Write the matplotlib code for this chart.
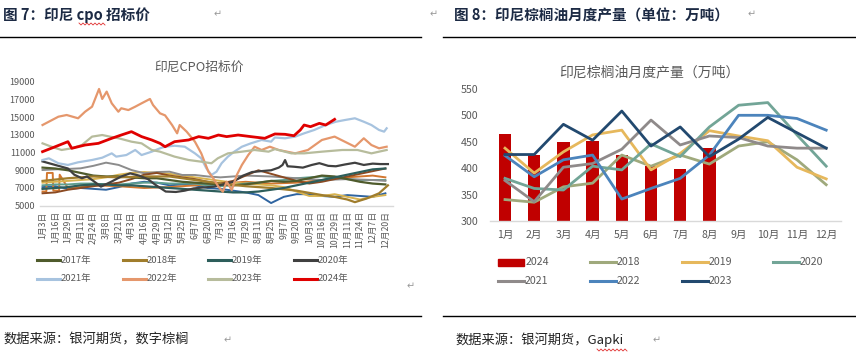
import matplotlib
matplotlib.use('Agg')
import matplotlib.pyplot as plt
from matplotlib.lines import Line2D
from matplotlib.patches import Rectangle

plt.rcParams['font.family'] = ['Noto Sans CJK SC', 'DejaVu Sans']

W, H = 856, 361

# ---------------- left chart: CPO tender price (x = tick index) ----------------
date_labels = ['1月3日', '1月16日', '1月29日', '2月11日', '2月24日', '3月8日', '3月21日',
               '4月3日', '4月16日', '4月29日', '5月12日', '5月25日', '6月7日', '6月20日',
               '7月3日', '7月16日', '7月29日', '8月11日', '8月25日', '9月7日', '9月20日',
               '10月3日', '10月16日', '10月29日', '11月11日', '11月24日', '12月7日', '12月20日']

x_full = list(range(28))

y2017 = [9300, 9200, 9000, 8700, 8400, 8300, 8300, 8200, 8100, 8100, 7900, 7700, 7600, 7500,
         7400, 7300, 7400, 7600, 7800, 7700, 7800, 8100, 8400, 8300, 8000, 7700, 7500, 7400]
x2018 = [0, 2, 4, 6, 8, 10, 12, 14, 16, 18, 20, 22, 23, 24, 24.6, 25.5, 26.5, 27.2]
y2018 = [7800, 8100, 8300, 8200, 8300, 8300, 7900, 7500, 7200, 7000, 6700, 6200, 6000, 5700,
         5400, 5800, 6400, 7300]
y2019 = [6900, 7000, 7100, 7300, 7400, 7400, 7300, 7300, 7200, 7100, 7000, 6900, 6800, 6700,
         6600, 6500, 6500, 6600, 6800, 7000, 7300, 7600, 7900, 8200, 8500, 8800, 9100, 9200]
x2020 = [0, 0.5, 1.0, 2.0, 2.5, 3.1, 3.5, 4.0, 4.6, 5.4, 6.2, 6.9, 7.6, 8.3, 8.9, 9.7, 10.5,
         11.2, 11.9, 12.6, 13.5, 14.2, 15.0, 15.8, 16.5, 17.2, 18.0, 18.6, 18.9, 19.1, 19.3,
         19.8, 20.5, 21.2, 21.8, 22.5, 23.1, 23.8, 24.6, 25.3, 26.0, 26.6, 27.2]
y2020 = [10000, 9800, 9600, 9200, 8500, 8100, 8300, 7800, 7150, 7700, 8300, 8650, 8400, 8000,
         7350, 6600, 6550, 6700, 6950, 7050, 7150, 7400, 7700, 8400, 8800, 8900, 9000, 9300,
         9600, 10150, 9450, 9400, 9300, 9600, 9800, 9500, 9450, 9650, 9850, 9600, 9750, 9700,
         9700]
x2021 = [0, 0.5, 1.25, 2.0, 2.8, 3.9, 4.7, 5.45, 5.8, 6.6, 7.3, 7.8, 8.6, 9.25, 9.65, 10.4,
         11.2, 12.0, 12.5, 12.9, 13.3, 13.7, 14.1, 14.6, 15.1, 15.7, 16.4, 17.25, 18.0, 18.3,
         19.1, 19.9, 20.6, 21.4, 22.3, 23.1, 23.8, 24.6, 25.3, 25.9, 26.5, 26.9, 27.1]
y2021 = [10160, 10350, 9790, 9600, 9900, 10160, 10420, 10910, 10540, 10720, 11290, 10720,
         11100, 11480, 11660, 11770, 11660, 10910, 10350, 9220, 8470, 8840, 9790, 10540, 11100,
         11660, 12040, 12420, 12230, 12700, 12610, 12800, 13170, 13550, 14110, 14480, 14670,
         14870, 14480, 14110, 13550, 13360, 13740]
x2022 = [0, 1.25, 1.9, 2.8, 3.35, 3.9, 4.45, 4.7, 5.05, 5.45, 5.97, 6.2, 6.76, 7.3, 7.8, 8.46,
         8.7, 9.25, 9.65, 10.2, 10.6, 10.8, 11.35, 12.0, 12.5, 13.06, 13.45, 13.85, 14.2, 14.5,
         14.9, 15.3, 15.7, 16.2, 16.7, 17.25, 17.9, 18.6, 19.9, 20.9, 22.0, 23.0, 23.8, 24.6,
         25.3, 25.9, 26.5, 27.1]
y2022 = [14110, 15050, 15240, 14870, 15610, 16180, 18180, 17050, 17880, 16560, 15610, 16000,
         15800, 16180, 16560, 17050, 16370, 15430, 15200, 14110, 13170, 14110, 13360, 12230,
         10910, 8840, 8090, 7150, 6580, 7710, 6770, 8470, 9600, 10720, 11660, 11290, 11660,
         11290, 10910, 11290, 12420, 12800, 12230, 11660, 12610, 11850, 11480, 11660]
x2023 = [0, 0.7, 1.5, 2.3, 3.1, 3.9, 4.7, 5.3, 6.0, 7.0, 7.8, 8.6, 9.25, 10.4, 11.5, 12.5,
         13.3, 13.8, 14.6, 15.7, 16.7, 17.8, 18.3, 19.6, 20.6, 22.0, 23.6, 24.8, 25.9, 27.1]
y2023 = [12040, 11660, 11290, 11480, 11850, 12800, 12980, 12800, 12610, 12230, 12040, 11290,
         11100, 10540, 10160, 9970, 9790, 10350, 10910, 11100, 11290, 11100, 11390, 10910,
         10910, 11100, 11290, 11290, 10910, 11290]
x2024 = [0, 1.0, 2.0, 2.3, 3.35, 4.4, 5.45, 6.2, 7.0, 7.8, 8.6, 9.25, 9.65, 10.4, 11.5, 12.3,
         13.06, 13.85, 14.5, 15.4, 16.4, 17.5, 18.3, 19.1, 19.8, 20.3, 20.6, 21.1, 21.8, 22.3,
         23.0]
y2024 = [11100, 11660, 12230, 11480, 11850, 12040, 12610, 12980, 13360, 12800, 12420, 12040,
         11660, 12230, 12420, 12800, 12610, 12980, 12800, 12980, 12800, 12610, 13100, 13060,
         12900, 13550, 14110, 13920, 14300, 14110, 14750]

# older years drawn without legend entries
old_blue = [7100, 7200, 6900, 7000, 6900, 6800, 7100, 7500, 7700, 7600, 7300, 7400, 7300, 7000,
            6900, 6700, 6500, 6200, 5300, 6000, 6300, 6300, 6100, 6000, 6200, 6100, 6000, 6400]
old_gray = [9030, 9100, 9150, 9220, 9500, 9860, 9600, 9030, 8660, 8800, 8840, 8470, 8470, 8300,
            8200, 8300, 8400, 8350, 8300, 8200, 8100, 8000, 7900, 7950, 8000, 7950, 7900, 7800]
old_brown = [6400, 6500, 6800, 7000, 7200, 7400, 7600, 8000, 8500, 8700, 8400, 8200, 8000, 7700,
             7500, 7800, 8400, 9000, 8600, 8200, 7800, 7500, 7700, 8000, 8300, 8600, 8900, 9200]
old_gold = [7600, 7700, 7800, 7900, 8000, 8200, 8500, 8700, 8800, 8700, 8600, 8400, 8200, 8000,
            7800, 7600, 7500, 7400, 7300, 7100, 6600, 6100, 6100, 6300, 6000, 5700, 6000, 6200]
old_teal = [7300, 7400, 7400, 7500, 7500, 7400, 7400, 7500, 7600, 7600, 7500, 7500, 7500, 7300,
            7200, 7300, 7500, 7600, 7800, 7900, 8100, 8200, 8300, 8100, 8000, 7900, 7900, 7900]
x_old_orange = [0, 0.3, 0.35, 0.8, 0.85, 1.3, 1.35, 2, 3, 4, 6, 8, 10, 12, 14, 16, 18, 20, 22,
                24, 26, 27]
y_old_orange = [6600, 6600, 8700, 8700, 6700, 6700, 8500, 7000, 7100, 7300, 7200, 7000, 7100,
                7300, 7500, 7700, 7500, 7600, 7900, 8200, 8400, 8200]

# ---------------- right chart: Indonesia monthly output ----------------
months = ['1月', '2月', '3月', '4月', '5月', '6月', '7月', '8月', '9月', '10月', '11月', '12月']
prod_2024 = [465, 426, 450, 451, 426, 404, 398, 439]
prod_2018 = [341, 336, 365, 372, 425, 404, 425, 408, 442, 450, 416, 369]
prod_2019 = [438, 391, 431, 463, 472, 397, 428, 471, 461, 452, 402, 380]
prod_2020 = [381, 362, 359, 404, 397, 446, 422, 478, 519, 524, 463, 404]
prod_2021 = [377, 337, 402, 409, 436, 491, 444, 461, 458, 442, 438, 438]
prod_2022 = [424, 384, 416, 425, 342, 362, 381, 425, 500, 500, 494, 472]
prod_2023 = [426, 426, 483, 453, 508, 442, 478, 422, 455, 496, 467, 438]

GRAY = '#595959'


def fx(x):
    return x / W


def fy(y):
    return 1 - y / H


fig = plt.figure(figsize=(W / 100, H / 100), dpi=100)
fig.patch.set_facecolor('white')

# ----- document decoration -----
fig.text(fx(3), fy(15), '图 7：印尼 cpo 招标价', fontsize=10.5, fontweight='bold',
         color='#1C2A44', va='center', ha='left')
fig.text(fx(214), fy(14), '↵', fontsize=7, color='#999999', va='center', family='DejaVu Sans')
fig.text(fx(430), fy(14), '↵', fontsize=7, color='#999999', va='center', family='DejaVu Sans')
fig.text(fx(454), fy(15), '图 8：印尼棕榈油月度产量（单位：万吨）', fontsize=10.5,
         fontweight='bold', color='#1C2A44', va='center', ha='left')
fig.text(fx(748), fy(14), '↵', fontsize=7, color='#999999', va='center', family='DejaVu Sans')
fig.text(fx(407), fy(286), '↵', fontsize=7, color='#999999', va='center', family='DejaVu Sans')

for x0, x1 in [(0, 421), (443, 856)]:
    fig.add_artist(Line2D([fx(x0), fx(x1)], [fy(37), fy(37)], color='black', lw=1.0))
    fig.add_artist(Line2D([fx(x0), fx(x1)], [fy(316), fy(316)], color='black', lw=1.0))

fig.text(fx(3), fy(340), '数据来源：银河期货，数字棕榈', fontsize=9.5, color='#222222',
         va='center', ha='left')
fig.text(fx(224), fy(340), '↵', fontsize=7, color='#999999', va='center', family='DejaVu Sans')
fig.text(fx(455), fy(340), '数据来源：银河期货，Gapki', fontsize=9.5, color='#222222',
         va='center', ha='left')
fig.text(fx(653), fy(340), '↵', fontsize=7, color='#999999', va='center', family='DejaVu Sans')


def squiggle(x0, x1, y):
    xs, ys = [], []
    n = int((x1 - x0) / 2)
    for i in range(n + 1):
        xs.append(fx(x0 + 2 * i))
        ys.append(fy(y + (1 if i % 2 else -1)))
    fig.add_artist(Line2D(xs, ys, color='#E03030', lw=0.6))


squiggle(79, 105, 24)
squiggle(597, 628, 350)

# ----- left chart -----
ax1 = fig.add_axes([fx(40), fy(205.7), (393 - 40) / W, 124 / H])
ax1.plot(x_full, old_blue, color='#2F64A0', lw=1.4)
ax1.plot(x_old_orange, y_old_orange, color='#D2772F', lw=1.4)
ax1.plot(x_full, old_gold, color='#D8B350', lw=1.4)
ax1.plot(x_full, old_teal, color='#5F9E8F', lw=1.4)
ax1.plot(x_full, old_gray, color='#8C8C8C', lw=1.4)
ax1.plot(x_full, old_brown, color='#8B4A22', lw=1.4)

series_left = [
    ('2017年', x_full, y2017, '#4F5B2C'),
    ('2018年', x2018, y2018, '#A07D2C'),
    ('2019年', x_full, y2019, '#2D5E5B'),
    ('2020年', x2020, y2020, '#404040'),
    ('2021年', x2021, y2021, '#A7C3DF'),
    ('2022年', x2022, y2022, '#E5976C'),
    ('2023年', x2023, y2023, '#B7BC9C'),
    ('2024年', x2024, y2024, '#E00000'),
]
for name, xs, ys, c in series_left:
    ax1.plot(xs, ys, color=c, lw=2.0 if name == '2024年' else 1.6)

ax1.set_xlim(-0.2, 27.6)
ax1.set_ylim(5000, 19000)
ax1.set_yticks(range(5000, 19001, 2000))
ax1.set_xticks(x_full)
ax1.set_xticklabels(date_labels, rotation=90, fontsize=6.3, color=GRAY)
ax1.tick_params(axis='y', length=0, labelsize=6.6, labelcolor=GRAY, pad=3.5)
ax1.tick_params(axis='x', length=0, pad=4)
for s in ['top', 'right', 'left']:
    ax1.spines[s].set_visible(False)
ax1.spines['bottom'].set_color('#D9D9D9')
ax1.spines['bottom'].set_linewidth(1.0)
fig.text(fx(199), fy(67), '印尼CPO招标价', fontsize=9.2, color=GRAY, ha='center', va='center')

# legend (left)
col_x = [37, 123, 208, 294]
row_y = [260, 279]
for i, (name, xs, ys, c) in enumerate(series_left):
    hx = col_x[i % 4]
    hy = row_y[i // 4]
    fig.add_artist(Line2D([fx(hx), fx(hx + 23)], [fy(hy), fy(hy)], color=c, lw=2.2))
    fig.text(fx(hx + 24), fy(hy), name, fontsize=6.8, color=GRAY, va='center', ha='left')

# ----- right chart -----
ax2 = fig.add_axes([fx(490.4), fy(221.3), 350.4 / W, 132.5 / H])
xm = list(range(12))
ax2.bar(range(len(prod_2024)), prod_2024, width=0.42, color='#C00000', zorder=1)
series_right = [
    ('2018', prod_2018, '#9FA97C'),
    ('2019', prod_2019, '#E6B85C'),
    ('2020', prod_2020, '#72A597'),
    ('2021', prod_2021, '#8F8A8A'),
    ('2022', prod_2022, '#4C84BC'),
    ('2023', prod_2023, '#22496F'),
]
for name, ys, c in series_right:
    ax2.plot(xm, ys, color=c, lw=2.0, zorder=2)

ax2.set_xlim(-0.5, 11.5)
ax2.set_ylim(300, 550)
ax2.set_yticks(range(300, 551, 50))
ax2.set_xticks(xm)
ax2.set_xticklabels(months, fontsize=7.6, color=GRAY)
ax2.tick_params(axis='y', length=0, labelsize=7.7, labelcolor=GRAY, pad=8.5)
ax2.tick_params(axis='x', length=0, pad=6)
for s in ['top', 'right', 'left']:
    ax2.spines[s].set_visible(False)
ax2.spines['bottom'].set_color('#D9D9D9')
ax2.spines['bottom'].set_linewidth(1.0)
fig.text(fx(649), fy(72), '印尼棕榈油月度产量（万吨）', fontsize=10, color=GRAY,
         ha='center', va='center')

# legend (right)
rcol_x = [498, 590, 682, 773]
rrow_y = [262, 281]
fig.add_artist(Rectangle((fx(498), fy(265.5)), 26 / W, 7 / H, color='#C00000'))
fig.text(fx(526), fy(262), '2024', fontsize=7.6, color=GRAY, va='center', ha='left')
for i, (name, ys, c) in enumerate(series_right):
    k = i + 1
    hx = rcol_x[k % 4]
    hy = rrow_y[k // 4]
    fig.add_artist(Line2D([fx(hx), fx(hx + 26)], [fy(hy), fy(hy)], color=c, lw=2.2))
    fig.text(fx(hx + 27), fy(hy), name, fontsize=7.6, color=GRAY, va='center', ha='left')

fig.savefig('out.png', dpi=100)
